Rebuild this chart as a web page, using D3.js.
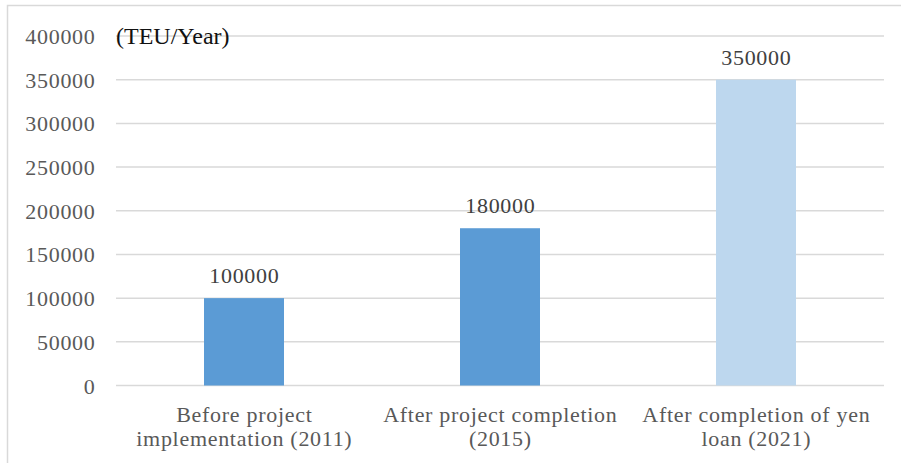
<!DOCTYPE html>
<html><head><meta charset="utf-8">
<script src="https://cdn.jsdelivr.net/npm/d3@7"></script>
<style>body{margin:0;background:#fff}svg{display:block}</style>
</head><body>
<script>
const categories = [["Before project","implementation (2011)"],["After project completion","(2015)"],["After completion of yen","loan (2021)"]];
const values = [100000, 180000, 350000];
const barColors = ["#5b9bd5", "#5b9bd5", "#bdd7ee"];
const yTicks = [0,50000,100000,150000,200000,250000,300000,350000,400000];
const unitLabel = "(TEU/Year)";

const W = 901, H = 463;
const svg = d3.select("body").append("svg").attr("width", W).attr("height", H);
const font = "'Liberation Serif', serif";
const fs = 22, ls = 0.7;

svg.append("rect").attr("x", 7.5).attr("y", 5.5).attr("width", 910).attr("height", 480)
  .attr("fill", "none").attr("stroke", "#d9d9d9").attr("stroke-width", 1.5);

const x = d3.scaleBand().domain(d3.range(categories.length)).range([116, 884]).paddingInner(0.6875).paddingOuter(0.34375);
const y = d3.scaleLinear().domain([0, 400000]).range([385.5, 36]);

svg.append("g").selectAll("line").data(yTicks).join("line")
  .attr("x1", 116).attr("x2", 884).attr("y1", d => y(d)).attr("y2", d => y(d))
  .attr("stroke", "#d9d9d9").attr("stroke-width", 1.5);

svg.append("g").selectAll("text").data(yTicks).join("text")
  .attr("x", 95.5).attr("y", d => y(d) + 8).attr("text-anchor", "end")
  .attr("font-family", font).attr("font-size", fs).attr("letter-spacing", ls)
  .attr("fill", "#595959").text(d => d);

svg.append("g").selectAll("rect").data(values).join("rect")
  .attr("x", (d,i) => x(i)).attr("width", x.bandwidth())
  .attr("y", d => y(d)).attr("height", d => y(0) - y(d))
  .attr("fill", (d,i) => barColors[i]);

svg.append("g").selectAll("text").data(values).join("text")
  .attr("x", (d,i) => x(i) + x.bandwidth()/2 + ls/2).attr("y", d => y(d) - 15)
  .attr("text-anchor", "middle").attr("font-family", font).attr("font-size", fs)
  .attr("letter-spacing", ls).attr("fill", "#404040").text(d => d);

categories.forEach((lines, i) => {
  svg.append("g").selectAll("text").data(lines).join("text")
    .attr("x", x(i) + x.bandwidth()/2 + ls/2).attr("y", (l,j) => 422 + j*23.5)
    .attr("text-anchor", "middle").attr("font-family", font).attr("font-size", fs)
    .attr("letter-spacing", ls).attr("fill", "#595959").text(l => l);
});

svg.append("text").attr("x", 116).attr("y", 44).attr("font-family", font).attr("font-size", 24)
  .attr("fill", "#111").text(unitLabel);
</script>
</body></html>
